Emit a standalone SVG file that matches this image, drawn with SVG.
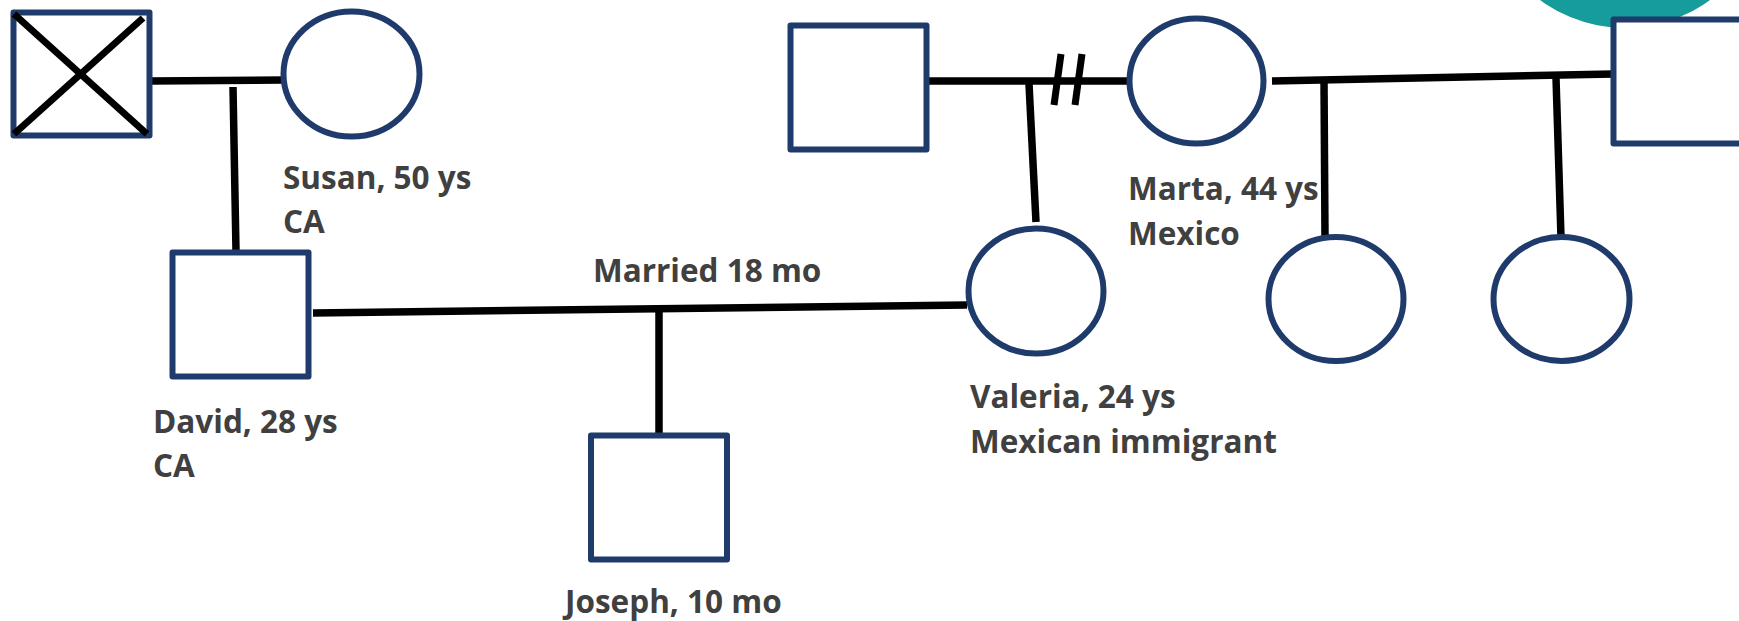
<svg xmlns="http://www.w3.org/2000/svg" width="1739" height="621" viewBox="0 0 1739 621">
<style>
.node{fill:#fff;stroke:#1f3b6b;stroke-width:6;stroke-linejoin:round}
.ln{stroke:#000;stroke-width:7.5;fill:none}
.lbl{font-family:"Open Sans",sans-serif;font-weight:bold;font-size:31.5px;fill:#404040}
</style>
<rect width="1739" height="621" fill="#fff"/>
<circle cx="1625" cy="-115" r="143" fill="#169d9b"/>
<g id="connectors">
<line class="ln" x1="150" y1="81" x2="283" y2="80"/>
<line class="ln" x1="233" y1="87" x2="236" y2="251"/>
<line class="ln" x1="929" y1="81" x2="1130" y2="81"/>
<line class="ln" x1="1029" y1="84" x2="1036" y2="222"/>
<line class="ln" x1="1061" y1="54" x2="1054" y2="105" style="stroke-width:7"/>
<line class="ln" x1="1082" y1="54" x2="1075" y2="105" style="stroke-width:7"/>
<line class="ln" x1="1272" y1="81" x2="1613" y2="74"/>
<line class="ln" x1="1324" y1="80" x2="1325" y2="237"/>
<line class="ln" x1="1556" y1="78" x2="1561" y2="237"/>
<line class="ln" x1="313" y1="313" x2="967" y2="305"/>
<line class="ln" x1="659" y1="310" x2="659" y2="434"/>
</g>
<g id="father1">
<rect class="node" x="13.5" y="12.5" width="136" height="123"/>
<line class="ln" x1="14" y1="14" x2="147" y2="134" style="stroke-width:7"/>
<line class="ln" x1="143" y1="18" x2="14" y2="134" style="stroke-width:7"/>
</g>
<g id="susan">
<ellipse class="node" cx="351.5" cy="74" rx="68" ry="62.5"/>
<text class="lbl" x="283" y="189">Susan, 50 ys</text>
<text class="lbl" x="283" y="233">CA</text>
</g>
<g id="father2">
<rect class="node" x="790.5" y="25.5" width="136" height="124"/>
</g>
<g id="marta">
<ellipse class="node" cx="1196.5" cy="81" rx="67" ry="62.5"/>
<text class="lbl" x="1128" y="200">Marta, 44 ys</text>
<text class="lbl" x="1128" y="245">Mexico</text>
</g>
<g id="partner3">
<rect class="node" x="1613.5" y="19.5" width="140" height="124"/>
</g>
<g id="sister1">
<ellipse class="node" cx="1336" cy="299" rx="67.5" ry="62"/>
</g>
<g id="sister2">
<ellipse class="node" cx="1561.5" cy="299" rx="68" ry="62"/>
</g>
<g id="david">
<rect class="node" x="172.5" y="252.5" width="136" height="124"/>
<text class="lbl" x="153" y="433">David, 28 ys</text>
<text class="lbl" x="153" y="477">CA</text>
</g>
<g id="marriage-label">
<text class="lbl" x="593" y="282">Married 18 mo</text>
</g>
<g id="valeria">
<ellipse class="node" cx="1036" cy="291" rx="67.5" ry="62.5"/>
<text class="lbl" x="970" y="408">Valeria, 24 ys</text>
<text class="lbl" x="970" y="453">Mexican immigrant</text>
</g>
<g id="joseph">
<rect class="node" x="591" y="435.5" width="136" height="124"/>
<text class="lbl" x="565" y="613">Joseph, 10 mo</text>
</g>
</svg>
